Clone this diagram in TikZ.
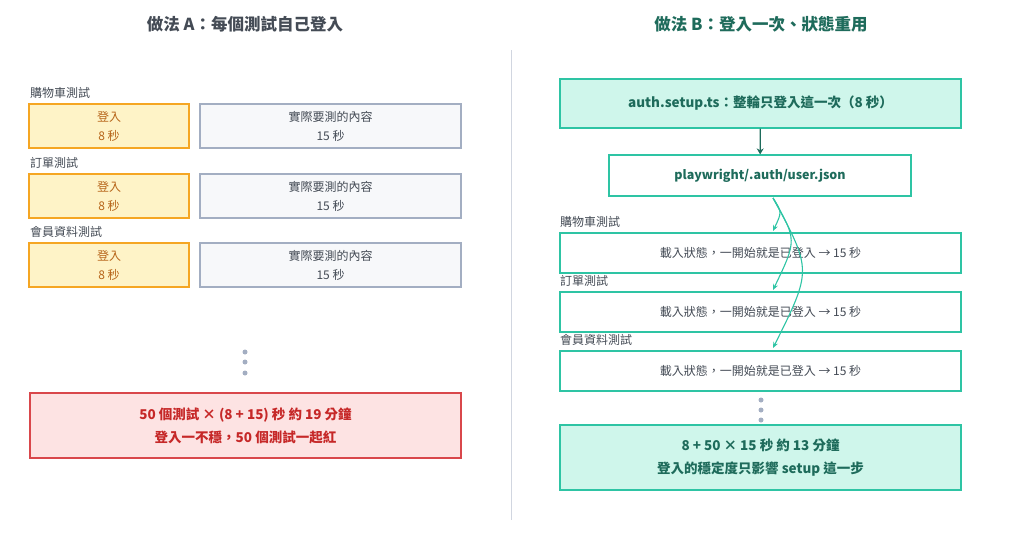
\documentclass[tikz,border=0pt]{standalone}
\usepackage{fontspec}
\setmainfont{Noto Sans CJK TC}
\usetikzlibrary{arrows.meta}
\definecolor{tealb}{HTML}{2EC4A4}
\definecolor{tealt}{HTML}{1E6B5B}
\definecolor{mint}{HTML}{CFF6EB}
\definecolor{redb}{HTML}{D9474B}
\definecolor{redf}{HTML}{FDE3E3}
\definecolor{redt}{HTML}{C62828}
\definecolor{yelb}{HTML}{F5A623}
\definecolor{yelf}{HTML}{FEF3C7}
\definecolor{yelt}{HTML}{B7651A}
\definecolor{grb}{HTML}{A3AEC2}
\definecolor{grf}{HTML}{F7F8FA}
\definecolor{txt}{HTML}{444B55}
\begin{document}
\begin{tikzpicture}[x=1pt,y=-1pt,
 box/.style={draw,line width=1.2pt,inner sep=0pt,align=center,font=\fontsize{12}{19}\selectfont},
 yel/.style={box,draw=yelb,fill=yelf,text=yelt,minimum width=160pt,minimum height=44pt},
 gry/.style={box,draw=grb,fill=grf,text=txt,minimum width=261pt,minimum height=44pt},
 tb/.style={box,draw=tealb,fill=white,text=txt,minimum width=401pt,minimum height=40pt},
 lab/.style={anchor=west,inner sep=0pt,text=txt,font=\fontsize{12}{14}\selectfont},
 ttl/.style={font=\fontsize{16.5}{19}\selectfont\bfseries},
 dot/.style={circle,fill=grb,inner sep=0pt,minimum size=5pt},
 arr/.style={draw=tealb,line width=1.1pt,-{Stealth[length=6pt,width=5pt]}}]
\useasboundingbox (0,0) rectangle (1024,554);
\node[ttl,text=txt] (ta) at (245,24) {做法 A：每個測試自己登入};
\node[ttl,text=tealt] (tb) at (761,24) {做法 B：登入一次、狀態重用};
\draw[draw=grb!50,line width=0.8pt] (511,50) -- (511,520);
% left
\foreach \i/\y/\n in {1/93/購物車測試,2/163/訂單測試,3/232/會員資料測試}{
 \node[lab] (la\i) at (30,\y) {\n};
 \node[yel] (ya\i) at (109,\y+33) {登入\\8 秒};
 \node[gry] (ga\i) at (330.5,\y+33) {實際要測的內容\\15 秒};
}
\foreach \i/\y in {1/352,2/362,3/373}{\node[dot] (da\i) at (245,\y) {};}
\node[box,draw=redb,fill=redf,text=redt,minimum width=431pt,minimum height=65pt,font=\fontsize{13.5}{23}\selectfont\bfseries] (ra) at (245.5,425.5) {50 個測試 × (8 + 15) 秒 約 19 分鐘\\登入一不穩，50 個測試一起紅};
% right
\node[box,draw=tealb,fill=mint,text=tealt,minimum width=401pt,minimum height=49pt,font=\fontsize{13.5}{16}\selectfont\bfseries] (setup) at (760.5,103.5) {auth.setup.ts：整輪只登入這一次（8 秒）};
\node[box,draw=tealb,fill=white,text=tealt,minimum width=302pt,minimum height=41pt,font=\fontsize{12.5}{15}\selectfont\bfseries] (json) at (760,175.5) {playwright/.auth/user.json};
\draw[draw=tealt,line width=1.3pt,-{Stealth[length=6pt,width=7pt]}] (setup) -- (json);
\foreach \i/\y/\n in {1/222/購物車測試,2/281/訂單測試,3/340/會員資料測試}{
 \node[lab] (lb\i) at (560,\y) {\n};
 \node[tb] (b\i) at (760.5,\y+31) {載入狀態，一開始就是已登入 → 15 秒};
}
\draw[arr] (773,198) .. controls (782,212) .. (773,231);
\draw[arr] (773,198) .. controls (797,240) .. (773,290);
\draw[arr] (773,198) .. controls (812,270) .. (773,348);
\foreach \i/\y in {1/400,2/410,3/420}{\node[dot] (db\i) at (761,\y) {};}
\node[box,draw=tealb,fill=mint,text=tealt,minimum width=401pt,minimum height=65pt,font=\fontsize{13.5}{23}\selectfont\bfseries] (res) at (760.5,457.5) {8 + 50 × 15 秒 約 13 分鐘\\登入的穩定度只影響 setup 這一步};
\end{tikzpicture}
\end{document}
